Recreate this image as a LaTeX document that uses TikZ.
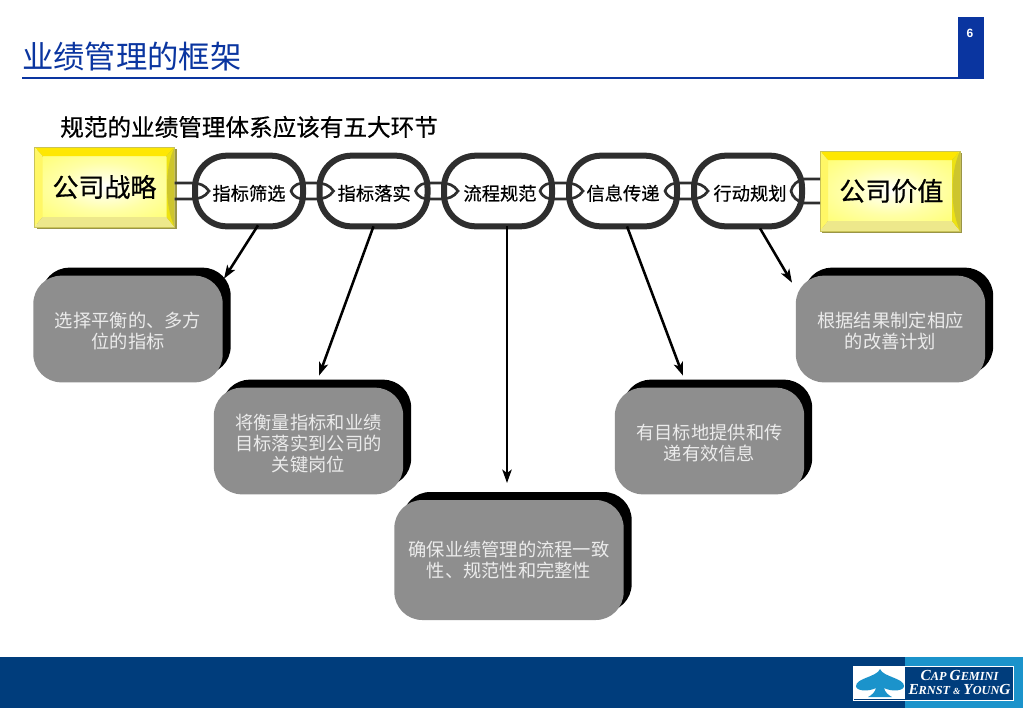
\documentclass[tikz,border=0pt]{standalone}
\usepackage{fontspec}
\setmainfont{Noto Sans CJK SC}
\newfontfamily\heavyfont[FakeBold=0.5]{Noto Sans CJK SC}
\newfontfamily\logofont{Liberation Serif}
\newfontfamily\pagefont{Liberation Sans}
\usetikzlibrary{positioning, shapes, arrows.meta, calc, shadows}

\definecolor{navy}{HTML}{003D7C}
\definecolor{skyband}{HTML}{1B93CB}
\definecolor{tabblue}{HTML}{0A35A0}
\definecolor{chaindark}{HTML}{2E2E2E}
\definecolor{boxgray}{HTML}{8E8E8E}
\pgfdeclareradialshading{bevelglow}{\pgfpoint{0bp}{0bp}}{color(0bp)=(white);color(20bp)=(yellow!35!white);color(50bp)=(yellow!70!white)}

\begin{document}
\begin{tikzpicture}[
    x=0.75pt, y=-0.75pt,
    arrow/.style={
        -{Stealth[length=10pt,width=7pt,inset=2.5pt]},
        line width=1.9pt
    },
    clasp/.style={
        draw=chaindark,
        line width=2pt
    },
    chainlink/.style={
        rectangle,
        rounded corners=24pt,
        draw=chaindark,
        fill=white,
        line width=4.5pt,
        outer sep=0pt,
        inner sep=0pt,
        minimum width=81pt,
        minimum height=53pt,
        font=\heavyfont\fontsize{13.7}{15}\selectfont,
        general shadow={fill=black!35, shadow xshift=1.2pt, shadow yshift=-1.5pt}
    },
    stepnote/.style={
        rectangle,
        rounded corners=21pt,
        fill=boxgray,
        outer sep=0pt,
        inner sep=0pt,
        minimum width=142pt,
        minimum height=80pt,
        align=center,
        text=white!92!black,
        font=\fontsize{13.7}{15.6}\selectfont,
        general shadow={fill=black, shadow xshift=6pt, shadow yshift=6pt}
    },
    bevel/.style={
        rectangle,
        draw=black!30!yellow!80!white,
        line width=0.6pt,
        outer sep=0pt,
        inner sep=0pt,
        minimum width=105pt,
        minimum height=60pt,
        font=\heavyfont\fontsize{19.5}{22}\selectfont,
        general shadow={fill=black!45!yellow, shadow xshift=1.5pt, shadow yshift=-1.5pt},
        path picture={
            \coordinate (nw) at (path picture bounding box.north west);
            \coordinate (ne) at (path picture bounding box.north east);
            \coordinate (sw) at (path picture bounding box.south west);
            \coordinate (se) at (path picture bounding box.south east);
            \coordinate (inw) at ($(nw)+(8,9)$);
            \coordinate (ine) at ($(ne)+(-8,9)$);
            \coordinate (isw) at ($(sw)+(8,-10)$);
            \coordinate (ise) at ($(se)+(-8,-10)$);
            \shade[shading=bevelglow] (inw) rectangle (ise);
            \fill[yellow!90!orange] (nw) -- (ne) -- (ine) -- (inw) -- cycle;
            \fill[yellow!60!white] (nw) -- (inw) -- (isw) -- (sw) -- cycle;
            \fill[yellow!45!white!92!black] (sw) -- (isw) -- (ise) -- (se) -- cycle;
            \fill[yellow!92!black] (ne) -- (ine) -- (ise) -- (se) -- cycle;
            \fill[yellow!78!black] (ne) .. controls ($(ine)+(-2,12)$) and ($(ise)+(-2,-12)$) .. (se) -- cycle;
        }
    }
]
    \useasboundingbox (0,0) rectangle (1023,708);
    \fill[white] (0,0) rectangle (1023,708);

    % Header
    \node[anchor=west, inner sep=0pt, text=tabblue, font=\fontsize{23.5}{26}\selectfont] (title) at (22,57) {业绩管理的框架};
    \node[rectangle, fill=tabblue, minimum width=19.5pt, minimum height=46.5pt, inner sep=0pt] (tab) at (971,48) {};
    \node[text=white, inner sep=0pt, font=\pagefont\bfseries\fontsize{9}{10}\selectfont] (page) at (970,33) {6};
    \coordinate (ruleL) at (22,78);
    \draw[tabblue, line width=2.2pt] (ruleL) -- (ruleL -| tab.center);

    \node[anchor=west, inner sep=0pt, font=\heavyfont\fontsize{17.7}{20}\selectfont] (sub) at (60,127) {规范的业绩管理体系应该有五大环节};

    % End blocks
    \node[bevel] (start) at (104.5,187) {公司战略};
    \node[bevel] (finish) at (890,191) {\hspace*{2pt}公司价值};

    % Notes
    \node[stepnote] (noteA) at (128,329) {\rule{0pt}{15pt}选择平衡的、多方\\位的指标};
    \node[stepnote] (noteB) at (308.5,441) {\rule{0pt}{15pt}将衡量指标和业绩\\目标落实到公司的\\关键岗位};
    \node[stepnote, minimum width=172pt, minimum height=90pt] (noteC) at (509,560) {确保业绩管理的流程一致\\性、规范性和完整性};
    \node[stepnote] (noteD) at (709.5,441) {\rule{0pt}{15pt}有目标地提供和传\\递有效信息};
    \node[stepnote] (noteE) at (890.5,329) {\rule{0pt}{15pt}根据结果制定相应\\的改善计划};

    % Chain
    \node[chainlink] (lnkA) at (249,191) {\rule{0pt}{15pt}指标筛选};
    \node[chainlink] (lnkB) at (373.5,191) {\rule{0pt}{15pt}\hspace*{1pt}指标落实};
    \node[chainlink] (lnkC) at (498,191) {\rule{0pt}{15pt}\hspace*{3pt}流程规范};
    \node[chainlink] (lnkD) at (623,191) {\rule{0pt}{15pt}信息传递};
    \node[chainlink] (lnkE) at (748,191) {\rule{0pt}{15pt}\hspace*{3pt}行动规划};

    \foreach \a/\b in {lnkA/lnkB, lnkB/lnkC, lnkC/lnkD, lnkD/lnkE} {
        \draw[clasp] ($(\a.east)+(-12,0)$) .. controls ($(\a.east)+(-9,-7)$) and ($(\a.east)+(-4,-8)$) .. ($(\a.east)+(3,-8)$)
            -- ($(\b.west)+(-3,-8)$) .. controls ($(\b.west)+(4,-8)$) and ($(\b.west)+(10,-6)$) .. ($(\b.west)+(14,0)$)
            .. controls ($(\b.west)+(10,6)$) and ($(\b.west)+(4,8)$) .. ($(\b.west)+(-3,8)$)
            -- ($(\a.east)+(3,8)$) .. controls ($(\a.east)+(-4,8)$) and ($(\a.east)+(-9,7)$) .. cycle;
    }
    \draw[clasp] (start.east |- 0,183) -- ($(lnkA.west)+(-3,-8)$) .. controls ($(lnkA.west)+(4,-8)$) and ($(lnkA.west)+(10,-6)$) .. ($(lnkA.west)+(14,0)$)
        .. controls ($(lnkA.west)+(10,6)$) and ($(lnkA.west)+(4,8)$) .. ($(lnkA.west)+(-3,8)$) -- (start.east |- 0,199);
    \draw[clasp] (finish.west |- 0,179) -- ($(lnkE.east)+(2,-12)$) .. controls ($(lnkE.east)+(-4,-11)$) and ($(lnkE.east)+(-10,-6)$) .. ($(lnkE.east)+(-11,0)$)
        .. controls ($(lnkE.east)+(-10,6)$) and ($(lnkE.east)+(-4,11)$) .. ($(lnkE.east)+(2,12)$) -- (finish.west |- 0,203);

    % Arrows
    \draw[arrow] ($(lnkA.south)+(9,-1)$) -- ($(noteA.north)+(96,3)$);
    \draw[arrow] (lnkB.south) -- ($(noteB.north)+(10.5,-12)$);
    \draw[arrow] ($(lnkC.south)+(9,0)$) -- ($(noteC.north)+(-2,-17)$);
    \draw[arrow] ($(lnkD.south)+(4,0)$) -- ($(noteD.north)+(-26.5,-12)$);
    \draw[arrow] ($(lnkE.south)+(12,2)$) -- ($(noteE.north)+(-98.5,7)$);

    % Footer
    \node[rectangle, fill=navy, anchor=north west, minimum width=767.25pt, minimum height=38.25pt, inner sep=0pt] (footer) at (0,657) {};
    \node[rectangle, fill=skyband, anchor=north east, minimum width=88.5pt, minimum height=38.25pt, inner sep=0pt] (band) at (1023,657) {};
    \node[rectangle, fill=navy, draw=white, line width=0.8pt, anchor=north west, minimum width=120pt, minimum height=25.5pt, inner sep=0pt] (logo) at (852.5,665.5) {};
    \node[rectangle, fill=white, anchor=west, minimum width=38.5pt, minimum height=24.5pt, inner sep=0pt] (logoL) at ($(logo.west)+(0.8,0)$) {};
    \fill[skyband] (880,669) .. controls (883,677) and (904,678) .. (904,686)
        .. controls (904,691) and (892,692) .. (884,688)
        .. controls (885,692) and (888,695) .. (892,697) -- (868,697)
        .. controls (872,695) and (875,692) .. (876,688)
        .. controls (868,692) and (856,691) .. (856,686)
        .. controls (856,678) and (877,677) .. (880,669) -- cycle;
    \node[text=white, inner sep=0pt, align=center, anchor=center, font=\logofont\bfseries\itshape\fontsize{9.2}{10.5}\selectfont] (logotext) at (959.5,682.5)
        {{\fontsize{11.5}{10.5}\selectfont C}AP {\fontsize{11.5}{10.5}\selectfont G}EMINI\\{\fontsize{11.5}{10.5}\selectfont E}RNST {\fontsize{7}{10.5}\selectfont \&} {\fontsize{11.5}{10.5}\selectfont Y}OUN{\fontsize{11.5}{10.5}\selectfont G}};
\end{tikzpicture}
\end{document}
